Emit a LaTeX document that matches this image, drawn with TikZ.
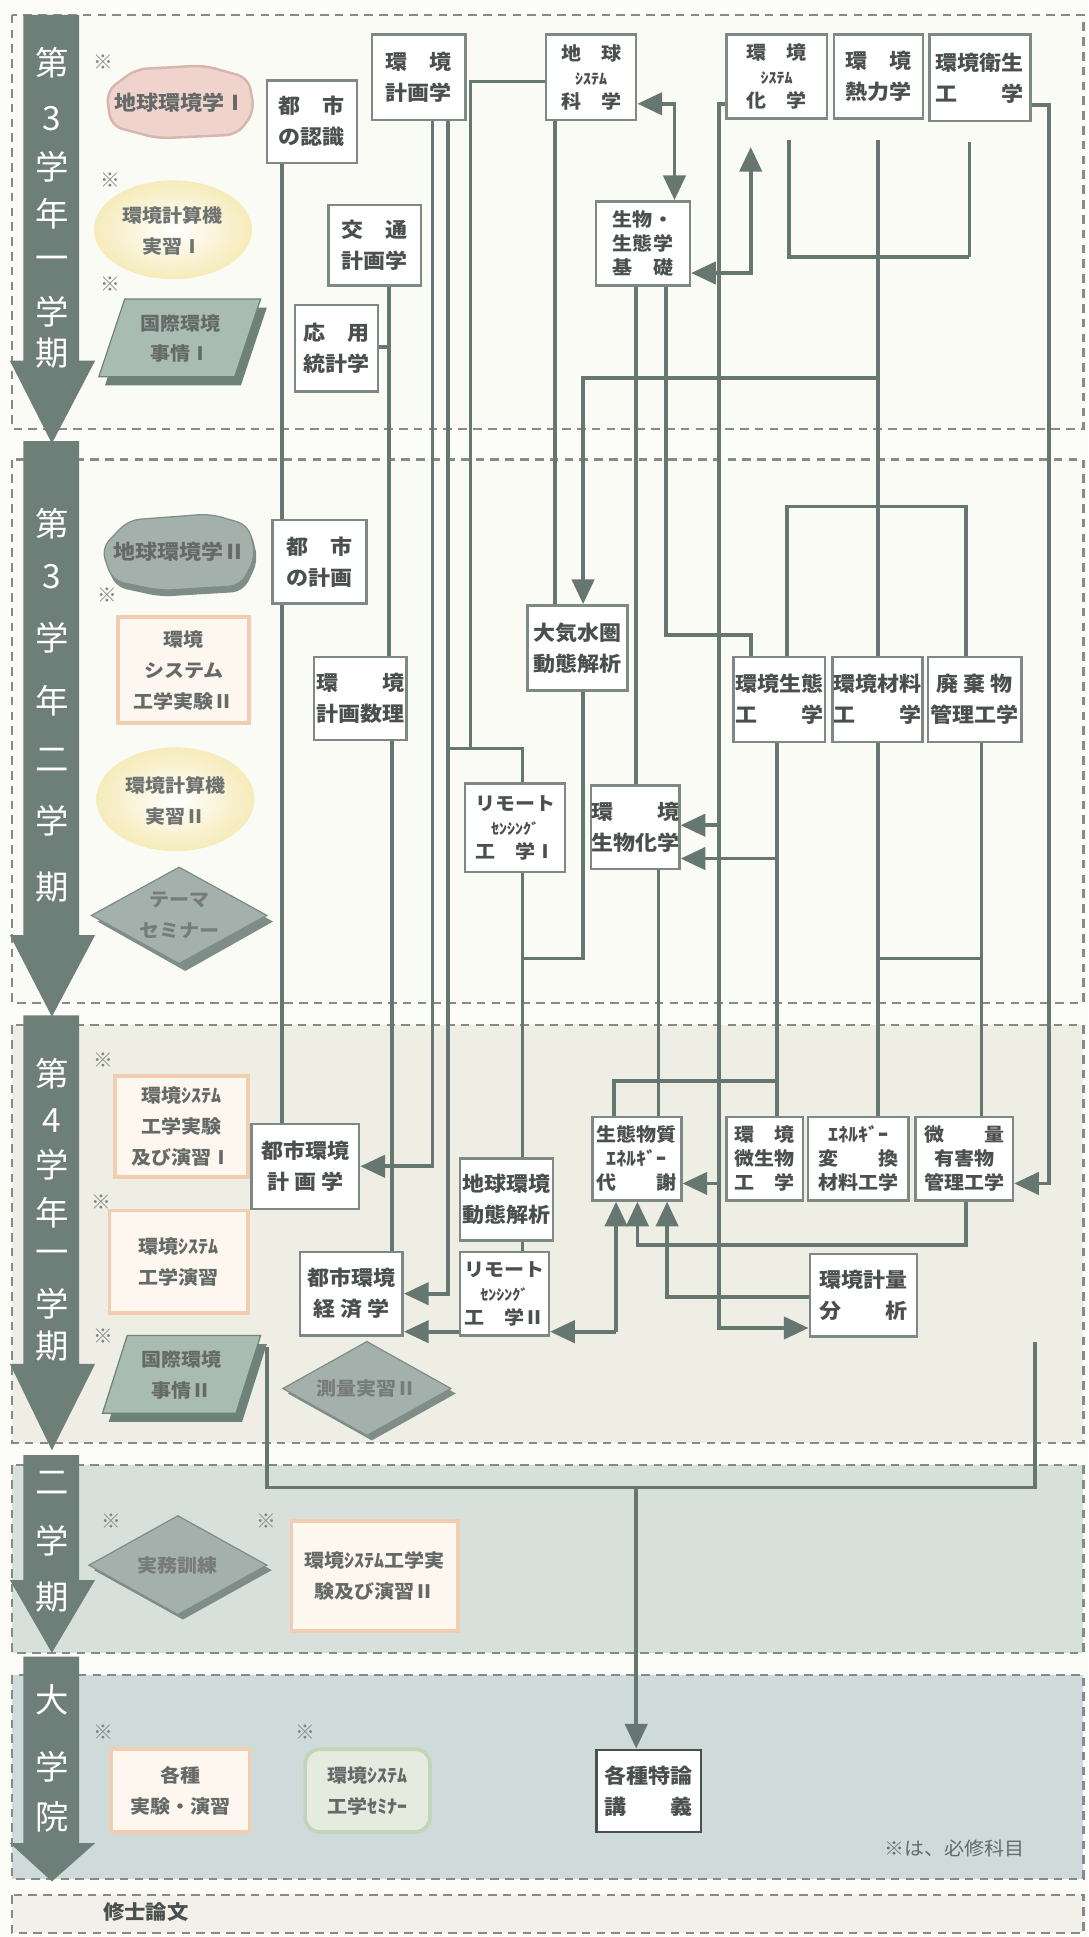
\documentclass[tikz,border=0pt]{standalone}
\usepackage{fontspec}
\setmainfont{Noto Sans CJK JP}
\newfontfamily\jp{Noto Sans CJK JP}[FakeStretch=1.08]
\newfontfamily\jpv{Noto Sans CJK JP}
\usetikzlibrary{arrows.meta,shapes.geometric}
\definecolor{bgc}{HTML}{FCFCF8}
\definecolor{sa}{HTML}{FBFBF6}
\definecolor{sc}{HTML}{EEEEE4}
\definecolor{sd}{HTML}{D8E0DC}
\definecolor{se}{HTML}{CFDADA}
\definecolor{sf}{HTML}{F2F0E8}
\definecolor{dashc}{HTML}{858B88}
\definecolor{linec}{HTML}{667771}
\definecolor{boxc}{HTML}{7E8884}
\definecolor{txtc}{HTML}{4A504E}
\definecolor{arrowc}{HTML}{6E7F7A}
\definecolor{pinkf}{HTML}{EFD3CC}
\definecolor{pinkd}{HTML}{D8B5AD}
\definecolor{grnf}{HTML}{A9BCB2}
\definecolor{grnd}{HTML}{6F8279}
\definecolor{gryf}{HTML}{A4B0AB}
\definecolor{gryd}{HTML}{7F8D88}
\definecolor{yelf}{HTML}{F6EBBA}
\definecolor{orf}{HTML}{FDF7EF}
\definecolor{ord}{HTML}{F1CDB2}
\definecolor{semf}{HTML}{E6EBDF}
\definecolor{semd}{HTML}{C3D4BA}
\definecolor{komec}{HTML}{7F8683}
\pgfdeclarelayer{back}
\pgfdeclarelayer{mid}
\pgfsetlayers{back,mid,main}
\newcommand{\semarrow}[3]{\fill[arrowc] (19,#1) -- (64,#1) -- (64,#2) -- (77,#2) -- (42,#3) -- (8,#2) -- (19,#2) -- cycle;}
\tikzset{
 ln/.style={draw=linec, line width=3pt},
 arr/.style={ln, -{Triangle[length=20pt,width=18pt]}},
 arrb/.style={ln, {Triangle[length=20pt,width=18pt]}-{Triangle[length=20pt,width=18pt]}},
 cbox/.style={draw=boxc, line width=2pt, fill=white, inner sep=0pt, align=center, text=txtc},
 ftwo/.style={font=\jp\bfseries\fontsize{16.5}{25}\selectfont},
 fthree/.style={font=\jp\bfseries\fontsize{15}{19.5}\selectfont},
 fsoft/.style={font=\jp\bfseries\fontsize{15}{25}\selectfont},
 sec/.style={draw=dashc, line width=1.8pt, dash pattern=on 7pt off 5pt},
 komes/.style={text=komec, font=\jpv\fontsize{16}{16}\selectfont, inner sep=0pt},
 lbl/.style={text=txtc, align=center, inner sep=0pt},
 bigt/.style={text=white, font=\jpv\fontsize{27}{27}\selectfont, inner sep=0pt},
 orbox/.style={draw=ord, line width=3pt, fill=orf, inner sep=0pt, align=center, text=txtc!85},
}
\begin{document}
\begin{tikzpicture}[x=1pt,y=-1pt]
\useasboundingbox (0,0) rectangle (881,1568);
\begin{pgfonlayer}{back}
 \fill[bgc] (0,0) rectangle (881,1568);
 \filldraw[sec, fill=sa] (10,12) rectangle (877,347);
 \filldraw[sec, fill=sa] (10,372) rectangle (877,812);
 \filldraw[sec, fill=sc] (10,830) rectangle (877,1168);
 \filldraw[sec, fill=sd] (10,1186) rectangle (877,1338);
 \filldraw[sec, fill=se] (10,1356) rectangle (877,1521);
 \filldraw[sec, fill=sf] (10,1534) rectangle (877,1565);
 \semarrow{12}{292}{359}
 \semarrow{357}{757}{823}
 \semarrow{822}{1104}{1174}
 \semarrow{1178}{1279}{1338}
 \semarrow{1341}{1492}{1523}
\end{pgfonlayer}
% vertical labels
\foreach \c/\y [count=\i] in {第/51,3/96,学/135,年/173,一/213,学/252,期/286} \node[bigt] (ta\i) at (42,\y) {\c};
\foreach \c/\y [count=\i] in {第/424,3/467,学/516,年/567,二/615,学/664,期/718} \node[bigt] (tb\i) at (42,\y) {\c};
\foreach \c/\y [count=\i] in {第/869,4/907,学/943,年/982,一/1018,学/1055,期/1090} \node[bigt] (tc\i) at (42,\y) {\c};
\foreach \c/\y [count=\i] in {二/1200,学/1247,期/1293} \node[bigt] (td\i) at (42,\y) {\c};
\foreach \c/\y [count=\i] in {大/1376,学/1430,院/1471} \node[bigt] (te\i) at (42,\y) {\c};
% kome marks
\foreach \x/\y [count=\i] in {84/50,89/146,89/230,87/482,84/858,82/973,84/1082,90/1231,216/1231,84/1402,247/1402} \node[komes] (km\i) at (\x,\y) {※};
% left column shapes
\draw[fill=pinkf, draw=pinkd, line width=2pt, rounded corners=9pt] (86,74) -- (110,56) -- (165,53) -- (201,63) -- (206,90) -- (192,109) -- (128,112) -- (90,102) -- cycle;
\node[lbl, ftwo, text=txtc!85] (gk1) at (146,83) {地球環境学Ⅰ};
\shade[inner color=white, outer color=yelf] (140,186) ellipse [x radius=64, y radius=40];
\node[lbl, fsoft, text=txtc!80] (kj1) at (140,187) {環境計算機\\実習Ⅰ};
\fill[grnd] (106,249) -- (216,249) -- (195,312) -- (85,312) -- cycle;
\draw[fill=grnf, draw=grnd, line width=1pt] (101,242) -- (211,242) -- (190,305) -- (80,305) -- cycle;
\node[lbl, fsoft, text=txtc!85] (kz1) at (146,274) {国際環境\\事情Ⅰ};
\fill[gryd, rounded corners=9pt] (84,448) -- (106,425) -- (172,420) -- (203,429) -- (209,454) -- (197,479) -- (130,483) -- (93,475) -- cycle;
\draw[fill=gryf, draw=gryd, line width=1pt, rounded corners=9pt] (82,444) -- (104,421) -- (170,416) -- (201,425) -- (207,450) -- (195,474) -- (130,478) -- (91,470) -- cycle;
\node[lbl, ftwo, text=txtc!85] (gk2) at (145,447) {地球環境学Ⅱ};
\node[orbox, fsoft, minimum width=106pt, minimum height=86pt] (ksx2) at (148.75,542.5) {環境\\システム\\工学実験Ⅱ};
\shade[inner color=white, outer color=yelf] (142,647) ellipse [x radius=64, y radius=42];
\node[lbl, fsoft, text=txtc!80] (kj2) at (142,648) {環境計算機\\実習Ⅱ};
\fill[gryd] (150,706) -- (221,746) -- (150,786) -- (79,746) -- cycle;
\draw[fill=gryf, draw=gryd, line width=1pt] (145,702) -- (216,741) -- (145,780) -- (74,741) -- cycle;
\node[lbl, fsoft, text=txtc!75] (tms) at (145,741) {テーマ\\セミナー};
\node[orbox, fsoft, minimum width=108pt, minimum height=82pt] (ksx3) at (146.85,911.8) {環境ｼｽﾃﾑ\\工学実験\\及び演習Ⅰ};
\node[orbox, fsoft, minimum width=112pt, minimum height=83pt] (ksx4) at (144.75,1021.5) {環境ｼｽﾃﾑ\\工学演習};
\fill[grnd] (108,1088) -- (216,1088) -- (196,1151) -- (88,1151) -- cycle;
\draw[fill=grnf, draw=grnd, line width=1pt] (103,1081) -- (211,1081) -- (191,1144) -- (83,1144) -- cycle;
\node[lbl, fsoft, text=txtc!85] (kz2) at (147,1113) {国際環境\\事情Ⅱ};
\fill[gryd] (301,1090) -- (369,1128) -- (301,1166) -- (233,1128) -- cycle;
\draw[fill=gryf, draw=gryd, line width=1pt] (297,1086) -- (365,1124) -- (297,1162) -- (229,1124) -- cycle;
\node[lbl, fsoft, text=txtc!75] (sr2) at (297,1124) {測量実習Ⅱ};
\fill[gryd] (148,1231) -- (220,1271) -- (148,1311) -- (76,1271) -- cycle;
\draw[fill=gryf, draw=gryd, line width=1pt] (144,1227) -- (216,1267) -- (144,1307) -- (72,1267) -- cycle;
\node[lbl, fsoft, text=txtc!75] (jmk) at (144,1267) {実務訓練};
\node[orbox, fsoft, minimum width=135pt, minimum height=89pt] (ksx5) at (303.5,1275.5) {環境ｼｽﾃﾑ工学実\\験及び演習Ⅱ};
\node[orbox, fsoft, minimum width=112pt, minimum height=67pt] (ksj) at (146,1449.5) {各種\\実験・演習};
\node[draw=semd, line width=3pt, fill=semf, rounded corners=12pt, inner sep=0pt, align=center, text=txtc!85, fsoft, minimum width=101pt, minimum height=67pt] (kss) at (297.5,1449.5) {環境ｼｽﾃﾑ\\工学ｾﾐﾅｰ};
% boxes
\node[cbox, ftwo, minimum width=76pt, minimum height=69pt] (kkk) at (339,62.5) {環　境\\計画学};
\node[cbox, ftwo, minimum width=73pt, minimum height=67pt] (tsn) at (252.5,98.5) {都　市\\の認識};
\node[cbox, ftwo, minimum width=75pt, minimum height=65pt] (kts) at (303.5,198.5) {交　通\\計画学};
\node[cbox, ftwo, minimum width=67pt, minimum height=70pt] (oyt) at (272.5,282) {応　用\\統計学};
\node[cbox, fthree, minimum width=73pt, minimum height=69pt] (css) at (478.5,62.5) {地　球\\{\fontsize{12}{12}\selectfont ｼｽﾃﾑ}\\科　学};
\node[cbox, fthree, minimum width=76pt, minimum height=68pt] (sbk) at (520.5,197) {生物・\\生態学\\基　礎};
\node[cbox, fthree, minimum width=81.5pt, minimum height=68pt] (ksk) at (628.75,62) {環　境\\{\fontsize{12}{12}\selectfont ｼｽﾃﾑ}\\化　学};
\node[cbox, ftwo, minimum width=72pt, minimum height=68pt] (knr) at (711,62) {環　境\\熱力学};
\node[cbox, ftwo, minimum width=81.5pt, minimum height=70pt] (kes) at (793.25,63) {環境衛生\\工　　学};
\node[cbox, ftwo, minimum width=76pt, minimum height=67.6pt] (tkk) at (258.5,454.8) {都　市\\の計画};
\node[cbox, ftwo, minimum width=75pt, minimum height=67pt] (kks) at (291.5,565.5) {環　　境\\計画数理};
\node[cbox, ftwo, minimum width=81pt, minimum height=69pt] (tks) at (467.5,524.5) {大気水圏\\動態解析};
\node[cbox, fthree, minimum width=81pt, minimum height=71.6pt] (rs1) at (417,670) {リモート\\{\fontsize{12}{12}\selectfont ｾﾝｼﾝｸﾞ}\\工　学Ⅰ};
\node[cbox, ftwo, minimum width=71.6pt, minimum height=67.3pt] (kbk) at (514.2,669.6) {環　　境\\生物化学};
\node[cbox, ftwo, minimum width=74.4pt, minimum height=68.7pt] (kst) at (630.8,566.3) {環境生態\\工　　学};
\node[cbox, ftwo, minimum width=73pt, minimum height=68.7pt] (kzk) at (710.25,566.3) {環境材料\\工　　学};
\node[cbox, ftwo, minimum width=76pt, minimum height=68.7pt] (hkb) at (789,566.3) {廃 棄 物\\管理工学};
\node[cbox, ftwo, minimum width=87pt, minimum height=68.8pt] (tkk2) at (247.25,944.1) {都市環境\\計 画 学};
\node[cbox, ftwo, minimum width=83.3pt, minimum height=67.5pt] (tke) at (284.35,1047.25) {都市環境\\経 済 学};
\node[cbox, ftwo, minimum width=75.2pt, minimum height=66.2pt] (cdk) at (409.9,970.9) {地球環境\\動態解析};
\node[cbox, fthree, minimum width=72pt, minimum height=67.5pt] (rs2) at (408.3,1047.25) {リモート\\{\fontsize{12}{12}\selectfont ｾﾝｼﾝｸﾞ}\\工　学Ⅱ};
\node[cbox, fthree, minimum width=72pt, minimum height=67.5pt] (sbe) at (515.5,938) {生態物質\\ｴﾈﾙｷﾞｰ\\代　　謝};
\node[cbox, fthree, minimum width=62pt, minimum height=67.5pt] (kbs) at (619,938) {環　境\\微生物\\工　学};
\node[cbox, fthree, minimum width=81.5pt, minimum height=67.5pt] (ehz) at (694.75,938) {ｴﾈﾙｷﾞｰ\\変　　換\\材料工学};
\node[cbox, fthree, minimum width=79pt, minimum height=67.5pt] (byk) at (780.5,938) {微　　量\\有害物\\管理工学};
\node[cbox, ftwo, minimum width=87pt, minimum height=67pt] (kkb) at (699,1048.5) {環境計量\\分　　析};
\node[cbox, ftwo, draw=txtc, minimum width=84.6pt, minimum height=66.5pt] (ktr) at (525.3,1449.75) {各種特論\\講　　義};
\node[lbl, font=\jp\fontsize{15}{15}\selectfont, text=txtc!85] (note) at (773,1496) {※は、必修科目};
\node[lbl, font=\jp\bfseries\fontsize{16}{16}\selectfont] (shr) at (118,1548) {修士論文};
\coordinate (L1) at (216.4,1090);
\coordinate (R1) at (838,1086);
% connectors
\begin{pgfonlayer}{mid}
 \draw[ln] (css.west |- 0,66) -- (380.8,66) -- (380.8,606);
 \draw[ln] (362.5,606) -- (423,606) -- (423,0 |- rs1.north);
 \draw[arr] (350,0 |- kkk.south) |- (tkk2.east);
 \draw[arr] (362.5,0 |- kkk.south) |- (tke.east);
 \draw[ln] (228,0 |- tsn.south) -- (228,0 |- tkk.north);
 \draw[ln] (228,0 |- tkk.south) -- (228,0 |- tkk2.north);
 \draw[ln] (315,0 |- kts.south) -- (315,0 |- kks.north);
 \draw[ln] (oyt.east |- 0,281) -- (315,281);
 \draw[ln] (317.5,0 |- kks.south) -- (317.5,0 |- tke.north);
 \draw[ln] (449,0 |- css.south) -- (449,0 |- tks.north);
 \draw[arrb] (css.east |- 0,84) -| (546,0 |- sbk.north);
 \draw[arrb, shorten >=22pt] (sbk.east |- 0,221) -| (607.7,0 |- ksk.south);
 \draw[arr] (ksk.west |- 0,84) -- (582,84) |- (kkb.west |- 0,1075);
 \draw[arr] (582,668) -- (kbk.east |- 0,668);
 \draw[arr] (582,958) -- (sbe.east |- 0,958);
 \draw[ln, shorten <=16pt] (638.6,0 |- ksk.south) -- (638.6,208) -- (784.7,208);
 \draw[ln, shorten <=16pt] (710.5,0 |- knr.south) -- (710.5,0 |- kzk.north);
 \draw[ln, shorten >=16pt] (784.7,208) -- (784.7,0 |- kes.south);
 \draw[arr] (710.5,306) -- (472,306) -- (472,0 |- tks.north);
 \draw[ln] (637,0 |- kst.north) -- (637,410) -- (782,410) -- (782,0 |- hkb.north);
 \draw[arr] (kes.east |- 0,85) -| (849,958) -- (byk.east |- 0,958);
 \draw[ln] (515,0 |- sbk.south) -- (515,0 |- kbk.north);
 \draw[ln] (539,0 |- sbk.south) -- (539,514) -| (607.7,0 |- kst.north);
 \draw[ln] (472,0 |- tks.south) -- (472,776) -- (423,776);
 \draw[ln] (423,0 |- rs1.south) -- (423,0 |- cdk.north);
 \draw[ln] (423,0 |- cdk.south) -- (423,0 |- rs2.north);
 \draw[ln] (533,0 |- kbk.south) -- (533,0 |- sbe.north);
 \draw[ln] (629,0 |- kst.south) -- (629,0 |- kbs.north);
 \draw[arr] (629,695) -- (kbk.east |- 0,695);
 \draw[ln] (629,875) -- (497,875) -- (497,0 |- sbe.north);
 \draw[ln] (710.5,0 |- kzk.south) -- (710.5,0 |- ehz.north);
 \draw[ln] (794.6,0 |- hkb.south) -- (794.6,0 |- byk.north);
 \draw[ln] (710.5,776) -- (794.6,776);
 \draw[arr] (782,0 |- byk.south) -- (782,1008) -| (516,0 |- sbe.south);
 \draw[arr] (kkb.west |- 0,1050) -| (540,0 |- sbe.south);
 \draw[arr] (498.7,1078) -- (498.7,0 |- sbe.south);
 \draw[arr] (498.7,1078) -- (rs2.east |- 0,1078);
 \draw[arr] (rs2.east |- 0,1078) -- (tke.east |- 0,1078);
 \draw[ln] (L1) |- (838,1204) -- (R1);
 \draw[arr] (515,1204) -- (515,0 |- ktr.north);
\end{pgfonlayer}
\end{tikzpicture}
\end{document}
